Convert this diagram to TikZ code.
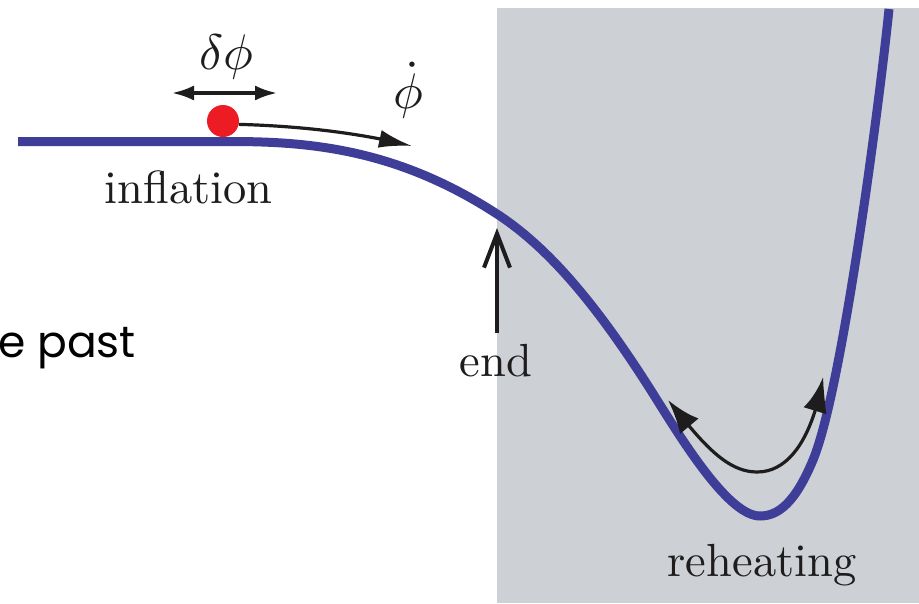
\documentclass[tikz,border=0pt]{standalone}
\usepackage{fontspec}
\newfontfamily\slidefont{Poppins}
\usetikzlibrary{arrows.meta,bending}
\definecolor{potblue}{RGB}{62,62,152}
\definecolor{greyfill}{RGB}{205,209,213}
\definecolor{ballred}{RGB}{237,28,36}
\definecolor{ink}{RGB}{30,28,28}
\tikzset{
  lbl/.style={text=ink, inner sep=0pt, scale=4.65},
  mathlbl/.style={text=ink, inner sep=0pt, scale=5},
  potential/.style={draw=potblue, line width=9pt, line join=round},
  rolltip/.tip={Latex[length=33pt,width=18pt]},
  osctip/.tip={Latex[length=35pt,width=24pt]},
  smalltip/.tip={Latex[length=22pt,width=15pt]},
  motion/.style={draw=ink, line width=3.2pt},
  endarrow/.style={draw=ink, line width=4pt, -{Straight Barb[length=34pt,width=26pt]}},
}
\begin{document}
\begin{tikzpicture}[x=1pt,y=-1pt]
\useasboundingbox (0,0) rectangle (919,603);
\clip (0,0) rectangle (919,603);
\fill[white] (0,0) rectangle (919,603);
\fill[greyfill] (497,8) rectangle (919,603);

% potential
\draw[potential] (18,141.5) -- (230,141.5)
  .. controls (310,141.5) and (397,149) .. (497,214)
  .. controls (552,249.75) and (602,312) .. (657,400)
  .. controls (687,448) and (730,516) .. (760,516)
  .. controls (778,516) and (795,503.2) .. (813,460)
  .. controls (843,388) and (881,89) .. (889,9);

% slide text fragment
\node[anchor=base east, inner sep=0pt, font=\slidefont\fontsize{44}{52}\selectfont] (slide) at (136,357) {e past};

% ball and its motion
\node[circle, fill=ballred, minimum size=32pt, inner sep=0pt] (ball) at (223,121) {};
\coordinate (rollend) at (412,146);
\draw[motion, -{rolltip}] (ball.-12) .. controls (300,126) and (360,133) .. (rollend);

\coordinate (fl) at (172,93);
\coordinate (fr) at (277,93);
\draw[motion, {smalltip}-{smalltip}] (fl) -- (fr);

\node[mathlbl] (dphi) at (226,57) {$\delta\phi$};
\node[mathlbl] (phidot) at (408,90) {$\dot\phi$};

\node[lbl, anchor=base] (infl) at (188.5,203) {inflation};

% end marker
\coordinate (endfoot) at (497,333);
\coordinate (endtip) at (497,228);
\draw[endarrow] (endfoot) -- (endtip);
\node[lbl, anchor=base] (endlbl) at (496,376) {end};

% oscillation
\coordinate (oscl) at (668,400);
\coordinate (oscm) at (757,472);
\coordinate (oscr) at (823,377);
\draw[motion, {osctip[bend]}-{osctip[bend]}] (oscl) .. controls (700,440) and (725,472) .. (oscm)
  .. controls (795,472) and (815,425) .. (oscr);

\node[lbl, anchor=base] (reh) at (762,576) {reheating};
\end{tikzpicture}
\end{document}
